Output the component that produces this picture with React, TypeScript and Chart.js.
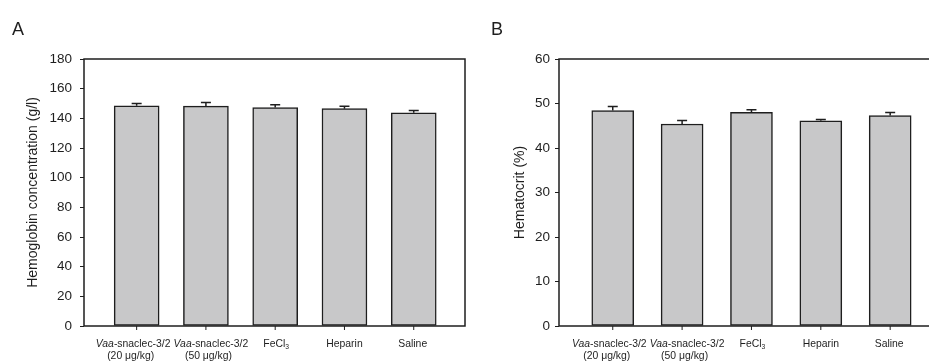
import React, { useEffect, useRef } from "react";
import { Chart, registerables } from "chart.js";

Chart.register(...registerables);

// ---- data ----
const categories = ["Vaa-snaclec-3/2", "Vaa-snaclec-3/2", "FeCl₃", "Heparin", "Saline"];
const categoryDoses = ["(20 μg/kg)", "(50 μg/kg)", "", "", ""];
const italicPrefix = "Vaa";

const hemoglobin = [148.5, 148.2, 147.3, 146.5, 143.7];
const hemoglobinErr = [1.5, 2.5, 1.8, 1.7, 1.6];
const hematocrit = [48.4, 45.4, 48.0, 46.1, 47.3];
const hematocritErr = [0.9, 0.8, 0.6, 0.3, 0.7];

// label nudges (layout only, px)
const line1Nudge = [-3.5, 5, 1, 0, -1];
const line2Nudge = [-6, 2.5, 0, 0, 0];

const INK = "#1e1e1e";
const FILL = "#c8c8c9";
const FONT = '"Liberation Sans", Arial, sans-serif';
const LABEL_SIZE = 10.4;

type PanelCfg = {
  letter: string;
  letterX: number;
  title: string;
  titleX: number;
  values: number[];
  errors: number[];
  yMax: number;
  yStep: number;
  yWidth: number;
  tickPad: number;
  xMin: number;
  xMax: number;
  barThickness: number;
  padRight: number;
};

function drawRichLabel(ctx: CanvasRenderingContext2D, text: string, cx: number, baseline: number, size: number) {
  const segs: { t: string; italic?: boolean; sub?: boolean }[] = [];
  let rest = text;
  if (rest.startsWith(italicPrefix)) {
    segs.push({ t: italicPrefix, italic: true });
    rest = rest.slice(italicPrefix.length);
  }
  let buf = "";
  for (const ch of rest) {
    const code = ch.charCodeAt(0);
    if (code >= 0x2080 && code <= 0x2089) {
      if (buf) segs.push({ t: buf });
      buf = "";
      segs.push({ t: String(code - 0x2080), sub: true });
    } else buf += ch;
  }
  if (buf) segs.push({ t: buf });
  const fontOf = (s: { italic?: boolean; sub?: boolean }) =>
    `${s.italic ? "italic " : ""}${s.sub ? size * 0.65 : size}px ${FONT}`;
  let w = 0;
  for (const s of segs) {
    ctx.font = fontOf(s);
    w += ctx.measureText(s.t).width;
  }
  let x = cx - w / 2;
  ctx.textAlign = "left";
  ctx.textBaseline = "alphabetic";
  for (const s of segs) {
    ctx.font = fontOf(s);
    ctx.fillText(s.t, x, baseline + (s.sub ? size * 0.25 : 0));
    x += ctx.measureText(s.t).width;
  }
}

function makeOverlay(cfg: PanelCfg) {
  return {
    id: "overlay",
    afterDatasetsDraw(chart: any) {
      const { ctx, chartArea: ca } = chart;
      const x = chart.scales.x;
      const y = chart.scales.y;
      ctx.save();
      ctx.strokeStyle = INK;
      ctx.fillStyle = INK;
      ctx.lineWidth = 1.5;
      // error bars
      cfg.values.forEach((v, i) => {
        const px = x.getPixelForValue(i);
        const y0 = y.getPixelForValue(v);
        const y1 = y.getPixelForValue(v + cfg.errors[i]);
        ctx.beginPath();
        ctx.moveTo(px, y0);
        ctx.lineTo(px, y1);
        ctx.moveTo(px - 5, y1);
        ctx.lineTo(px + 5, y1);
        ctx.stroke();
      });
      // frame
      ctx.strokeRect(ca.left, ca.top, ca.right - ca.left, ca.bottom - ca.top);
      // x tick marks + labels
      ctx.lineWidth = 1;
      categories.forEach((c, i) => {
        const px = x.getPixelForValue(i);
        ctx.beginPath();
        ctx.moveTo(px, ca.bottom);
        ctx.lineTo(px, ca.bottom + 4);
        ctx.stroke();
        drawRichLabel(ctx, c, px + line1Nudge[i], ca.bottom + 20.5, LABEL_SIZE);
        if (categoryDoses[i]) drawRichLabel(ctx, categoryDoses[i], px + line2Nudge[i], ca.bottom + 32.5, LABEL_SIZE);
      });
      // y title
      ctx.save();
      ctx.translate(cfg.titleX, (ca.top + ca.bottom) / 2);
      ctx.rotate(-Math.PI / 2);
      ctx.font = `14px ${FONT}`;
      ctx.textAlign = "center";
      ctx.textBaseline = "middle";
      ctx.fillText(cfg.title, 0, 0);
      ctx.restore();
      // panel letter
      ctx.font = `18px ${FONT}`;
      ctx.textAlign = "left";
      ctx.textBaseline = "alphabetic";
      ctx.fillText(cfg.letter, cfg.letterX, 34.5);
      ctx.restore();
    },
  };
}

function Panel({ cfg, left, width }: { cfg: PanelCfg; left: number; width: number }) {
  const ref = useRef<HTMLCanvasElement>(null);
  useEffect(() => {
    const chart = new Chart(ref.current as HTMLCanvasElement, {
      type: "bar",
      data: {
        datasets: [
          {
            data: cfg.values.map((v, i) => ({ x: i, y: v })),
            backgroundColor: FILL,
            borderColor: INK,
            borderWidth: 1.5,
            borderSkipped: false,
            barThickness: cfg.barThickness,
          } as any,
        ],
      },
      options: {
        animation: false,
        responsive: false,
        devicePixelRatio: 1,
        layout: { padding: { left: 0, right: cfg.padRight, top: 59, bottom: 37 } },
        plugins: { legend: { display: false }, tooltip: { enabled: false } },
        scales: {
          x: { type: "linear", display: false, offset: false, min: cfg.xMin, max: cfg.xMax },
          y: {
            min: 0,
            max: cfg.yMax,
            afterFit: (s: any) => {
              s.width = cfg.yWidth;
            },
            ticks: {
              stepSize: cfg.yStep,
              color: INK,
              padding: cfg.tickPad,
              font: { family: FONT, size: 13.5 },
            },
            grid: {
              drawOnChartArea: false,
              drawTicks: true,
              tickLength: 4,
              color: INK,
              lineWidth: 1,
            },
            border: { display: false },
          },
        },
      },
      plugins: [makeOverlay(cfg)],
    });
    return () => chart.destroy();
  }, []);
  return (
    <canvas
      ref={ref}
      width={width}
      height={363}
      style={{ position: "absolute", left, top: 0, width, height: 363 }}
    />
  );
}

const panelA: PanelCfg = {
  letter: "A",
  letterX: 12,
  title: "Hemoglobin concentration (g/l)",
  titleX: 33,
  values: hemoglobin,
  errors: hemoglobinErr,
  yMax: 180,
  yStep: 20,
  yWidth: 84,
  tickPad: 8,
  xMin: -0.76,
  xMax: 4.74,
  barThickness: 45,
  padRight: 5,
};

const panelB: PanelCfg = {
  letter: "B",
  letterX: 21,
  title: "Hematocrit (%)",
  titleX: 50,
  values: hematocrit,
  errors: hematocritErr,
  yMax: 60,
  yStep: 10,
  yWidth: 89,
  tickPad: 5,
  xMin: -0.775,
  xMax: 4.776,
  barThickness: 42,
  padRight: 16,
};

export default function App() {
  return (
    <div
      style={{
        position: "fixed",
        left: 0,
        top: 0,
        width: 929,
        height: 363,
        overflow: "hidden",
        background: "#fff",
      }}
    >
      <Panel cfg={panelA} left={0} width={470} />
      <Panel cfg={panelB} left={470} width={490} />
    </div>
  );
}
